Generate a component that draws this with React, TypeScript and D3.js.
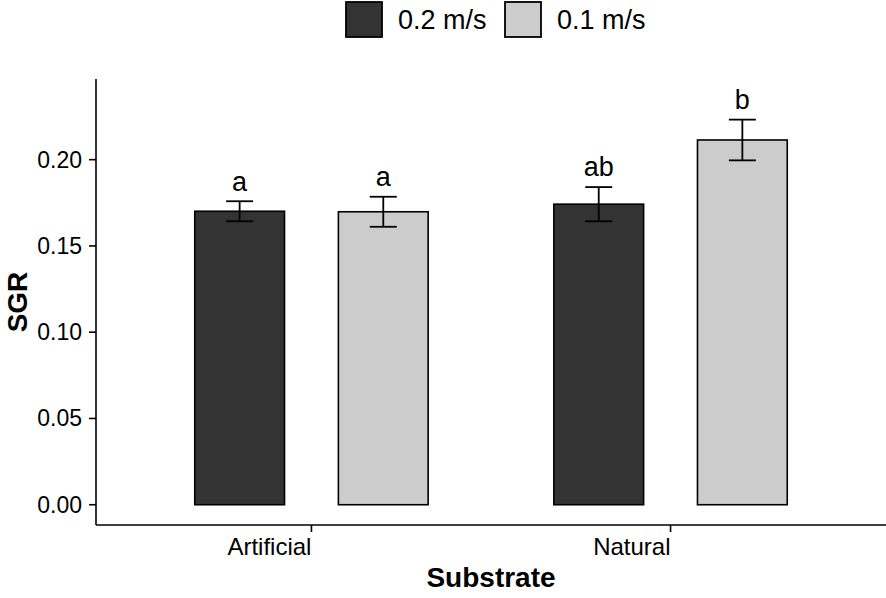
import React, { useEffect } from "react";
import * as d3 from "d3";

const categories = ["Artificial", "Natural"];
const seriesNames = ["0.2 m/s", "0.1 m/s"];
const seriesColors = ["#333333", "#cccccc"];
const means02 = [0.1701, 0.1742];
const se02 = [0.0058, 0.0099];
const means01 = [0.1698, 0.2114];
const se01 = [0.0087, 0.0118];
const letters02 = ["a", "ab"];
const letters01 = ["a", "b"];
const yTicks = [0, 0.05, 0.1, 0.15, 0.2];

const W = 886;
const H = 598;
const FONT = "'Liberation Sans', Arial, Helvetica, sans-serif";

export default function App() {
  useEffect(() => {
    document.body.style.margin = "0";
  }, []);

  const left = 96;
  const right = 886;
  const top = 79;
  const bottom = 525;

  const x = d3.scaleLinear().domain([0.4, 2.6]).range([left, right]);
  const dataMax = 0.235;
  const y = d3
    .scaleLinear()
    .domain([-0.05 * dataMax, 1.05 * dataMax])
    .range([bottom, top]);

  const barW = 0.25;
  const dodge = 0.2;
  const capW = 0.075;

  const series = [
    { name: seriesNames[0], color: seriesColors[0], means: means02, se: se02, letters: letters02, off: -dodge },
    { name: seriesNames[1], color: seriesColors[1], means: means01, se: se01, letters: letters01, off: dodge },
  ];

  const fmt = d3.format(".2f");

  return (
    <svg width={W} height={H} style={{ display: "block", background: "#fff" }} fontFamily={FONT}>
      {/* bars */}
      {series.map((s, si) =>
        categories.map((c, ci) => {
          const cx = ci + 1 + s.off;
          const m = s.means[ci];
          const e = s.se[ci];
          const x0 = x(cx - barW / 2);
          const x1 = x(cx + barW / 2);
          const errTop = m + e;
          return (
            <g key={`${si}-${ci}`}>
              <rect
                x={x0}
                y={y(m)}
                width={x1 - x0}
                height={y(0) - y(m)}
                fill={s.color}
                stroke="#000"
                strokeWidth={1.6}
              />
              <line x1={x(cx)} x2={x(cx)} y1={y(m - e)} y2={y(errTop)} stroke="#000" strokeWidth={1.8} />
              <line x1={x(cx - capW / 2)} x2={x(cx + capW / 2)} y1={y(errTop)} y2={y(errTop)} stroke="#000" strokeWidth={1.8} />
              <line x1={x(cx - capW / 2)} x2={x(cx + capW / 2)} y1={y(m - e)} y2={y(m - e)} stroke="#000" strokeWidth={1.8} />
              <text
                x={x(cx)}
                y={y(errTop + 0.012) + 10}
                textAnchor="middle"
                fontSize={27}
                fill="#000"
              >
                {s.letters[ci]}
              </text>
            </g>
          );
        })
      )}

      {/* y axis */}
      <line x1={left} x2={left} y1={top} y2={bottom} stroke="#000" strokeWidth={1.6} />
      {yTicks.map((t) => (
        <g key={t}>
          <line x1={left - 7} x2={left} y1={y(t)} y2={y(t)} stroke="#000" strokeWidth={1.6} />
          <text x={left - 14} y={y(t) + 8} textAnchor="end" fontSize={23} fill="#000">
            {fmt(t)}
          </text>
        </g>
      ))}

      {/* x axis */}
      <line x1={left} x2={right} y1={bottom} y2={bottom} stroke="#000" strokeWidth={1.6} />
      {categories.map((c, ci) => (
        <g key={c}>
          <line x1={x(ci + 1)} x2={x(ci + 1)} y1={bottom} y2={bottom + 7} stroke="#000" strokeWidth={1.6} />
          <text x={x(ci + 1)} y={555} textAnchor="end" fontSize={24} fill="#000">
            {c}
          </text>
        </g>
      ))}

      {/* axis titles */}
      <text x={(left + right) / 2} y={587} textAnchor="middle" fontSize={28} fontWeight="bold" fill="#000">
        Substrate
      </text>
      <text
        transform={`translate(27, ${(top + bottom) / 2}) rotate(-90)`}
        textAnchor="middle"
        fontSize={28}
        fontWeight="bold"
        fill="#000"
      >
        SGR
      </text>

      {/* legend */}
      {series.map((s, i) => {
        const kx = i === 0 ? 346 : 505;
        return (
          <g key={s.name}>
            <rect x={kx} y={2} width={36} height={35} fill={s.color} stroke="#000" strokeWidth={1.8} />
            <text x={kx + 52} y={29} fontSize={27} fill="#000">
              {s.name}
            </text>
          </g>
        );
      })}
    </svg>
  );
}
